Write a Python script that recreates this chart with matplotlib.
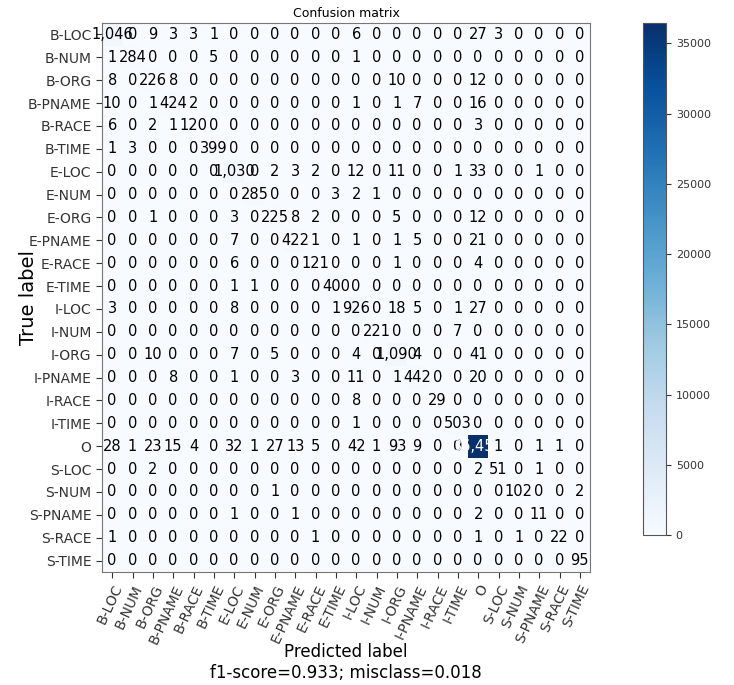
import numpy as np
import matplotlib
matplotlib.use("Agg")
import matplotlib.pyplot as plt

# Class labels
labels = ['B-LOC', 'B-NUM', 'B-ORG', 'B-PNAME', 'B-RACE', 'B-TIME',
          'E-LOC', 'E-NUM', 'E-ORG', 'E-PNAME', 'E-RACE', 'E-TIME',
          'I-LOC', 'I-NUM', 'I-ORG', 'I-PNAME', 'I-RACE', 'I-TIME',
          'O', 'S-LOC', 'S-NUM', 'S-PNAME', 'S-RACE', 'S-TIME']

# Confusion matrix rows (true label), columns (predicted label)
row_b_loc   = [1046, 0, 9, 3, 3, 1, 0, 0, 0, 0, 0, 0, 6, 0, 0, 0, 0, 0, 27, 3, 0, 0, 0, 0]
row_b_num   = [1, 284, 0, 0, 0, 5, 0, 0, 0, 0, 0, 0, 1, 0, 0, 0, 0, 0, 0, 0, 0, 0, 0, 0]
row_b_org   = [8, 0, 226, 8, 0, 0, 0, 0, 0, 0, 0, 0, 0, 0, 10, 0, 0, 0, 12, 0, 0, 0, 0, 0]
row_b_pname = [10, 0, 1, 424, 2, 0, 0, 0, 0, 0, 0, 0, 1, 0, 1, 7, 0, 0, 16, 0, 0, 0, 0, 0]
row_b_race  = [6, 0, 2, 1, 120, 0, 0, 0, 0, 0, 0, 0, 0, 0, 0, 0, 0, 0, 3, 0, 0, 0, 0, 0]
row_b_time  = [1, 3, 0, 0, 0, 399, 0, 0, 0, 0, 0, 0, 0, 0, 0, 0, 0, 0, 0, 0, 0, 0, 0, 0]
row_e_loc   = [0, 0, 0, 0, 0, 0, 1030, 0, 2, 3, 2, 0, 12, 0, 11, 0, 0, 1, 33, 0, 0, 1, 0, 0]
row_e_num   = [0, 0, 0, 0, 0, 0, 0, 285, 0, 0, 0, 3, 2, 1, 0, 0, 0, 0, 0, 0, 0, 0, 0, 0]
row_e_org   = [0, 0, 1, 0, 0, 0, 3, 0, 225, 8, 2, 0, 0, 0, 5, 0, 0, 0, 12, 0, 0, 0, 0, 0]
row_e_pname = [0, 0, 0, 0, 0, 0, 7, 0, 0, 422, 1, 0, 1, 0, 1, 5, 0, 0, 21, 0, 0, 0, 0, 0]
row_e_race  = [0, 0, 0, 0, 0, 0, 6, 0, 0, 0, 121, 0, 0, 0, 1, 0, 0, 0, 4, 0, 0, 0, 0, 0]
row_e_time  = [0, 0, 0, 0, 0, 0, 1, 1, 0, 0, 0, 400, 0, 0, 0, 0, 0, 0, 0, 0, 0, 0, 0, 0]
row_i_loc   = [3, 0, 0, 0, 0, 0, 8, 0, 0, 0, 0, 1, 926, 0, 18, 5, 0, 1, 27, 0, 0, 0, 0, 0]
row_i_num   = [0, 0, 0, 0, 0, 0, 0, 0, 0, 0, 0, 0, 0, 221, 0, 0, 0, 7, 0, 0, 0, 0, 0, 0]
row_i_org   = [0, 0, 10, 0, 0, 0, 7, 0, 5, 0, 0, 0, 4, 0, 1090, 4, 0, 0, 41, 0, 0, 0, 0, 0]
row_i_pname = [0, 0, 0, 8, 0, 0, 1, 0, 0, 3, 0, 0, 11, 0, 1, 442, 0, 0, 20, 0, 0, 0, 0, 0]
row_i_race  = [0, 0, 0, 0, 0, 0, 0, 0, 0, 0, 0, 0, 8, 0, 0, 0, 29, 0, 0, 0, 0, 0, 0, 0]
row_i_time  = [0, 0, 0, 0, 0, 0, 0, 0, 0, 0, 0, 0, 1, 0, 0, 0, 0, 503, 0, 0, 0, 0, 0, 0]
row_o       = [28, 1, 23, 15, 4, 0, 32, 1, 27, 13, 5, 0, 42, 1, 93, 9, 0, 0, 36452, 1, 0, 1, 1, 0]
row_s_loc   = [0, 0, 2, 0, 0, 0, 0, 0, 0, 0, 0, 0, 0, 0, 0, 0, 0, 0, 2, 51, 0, 1, 0, 0]
row_s_num   = [0, 0, 0, 0, 0, 0, 0, 0, 1, 0, 0, 0, 0, 0, 0, 0, 0, 0, 0, 0, 102, 0, 0, 2]
row_s_pname = [0, 0, 0, 0, 0, 0, 1, 0, 0, 1, 0, 0, 0, 0, 0, 0, 0, 0, 2, 0, 0, 11, 0, 0]
row_s_race  = [1, 0, 0, 0, 0, 0, 0, 0, 0, 0, 1, 0, 0, 0, 0, 0, 0, 0, 1, 0, 1, 0, 22, 0]
row_s_time  = [0, 0, 0, 0, 0, 0, 0, 0, 0, 0, 0, 0, 0, 0, 0, 0, 0, 0, 0, 0, 0, 0, 0, 95]

cm = np.array([row_b_loc, row_b_num, row_b_org, row_b_pname, row_b_race, row_b_time,
               row_e_loc, row_e_num, row_e_org, row_e_pname, row_e_race, row_e_time,
               row_i_loc, row_i_num, row_i_org, row_i_pname, row_i_race, row_i_time,
               row_o, row_s_loc, row_s_num, row_s_pname, row_s_race, row_s_time])

f1_score = 0.933
misclass = 0.018

fig = plt.figure(figsize=(7.34, 6.85), dpi=100)
ax = fig.add_axes([102 / 734, 1 - 572 / 685, 488 / 734, 549 / 685])
cax = fig.add_axes([643 / 734, 1 - 535 / 685, 23 / 734, 512 / 685])

im = ax.imshow(cm, interpolation='nearest', cmap=plt.get_cmap('Blues'), aspect='auto')
ax.set_title('Confusion matrix', fontsize=9, pad=4)
cb = fig.colorbar(im, cax=cax)
cb.ax.tick_params(labelsize=8, colors='#333333')
cb.outline.set_edgecolor('#555555')

tick_marks = np.arange(len(labels))
ax.set_xticks(tick_marks)
ax.set_xticklabels(labels, rotation=65, ha='right', rotation_mode='anchor', fontsize=10)
ax.set_yticks(tick_marks)
ax.set_yticklabels(labels, fontsize=10)
ax.tick_params(colors='#333333', length=4)
for sp in ax.spines.values():
    sp.set_edgecolor('#777777')

thresh = cm.max() / 2
for i in range(cm.shape[0]):
    for j in range(cm.shape[1]):
        ax.text(j, i, "{:,}".format(cm[i, j]), ha='center', va='center',
                fontsize=10.5, color='white' if cm[i, j] > thresh else 'black')

ax.set_ylabel('True label', fontsize=14)
ax.yaxis.set_label_coords(-0.131, 0.5)
ax.set_xlabel('Predicted label\nf1-score={:0.3f}; misclass={:0.3f}'.format(f1_score, misclass),
              fontsize=12)
ax.xaxis.set_label_coords(0.5, -0.13)

fig.savefig('out.png', dpi=100)
